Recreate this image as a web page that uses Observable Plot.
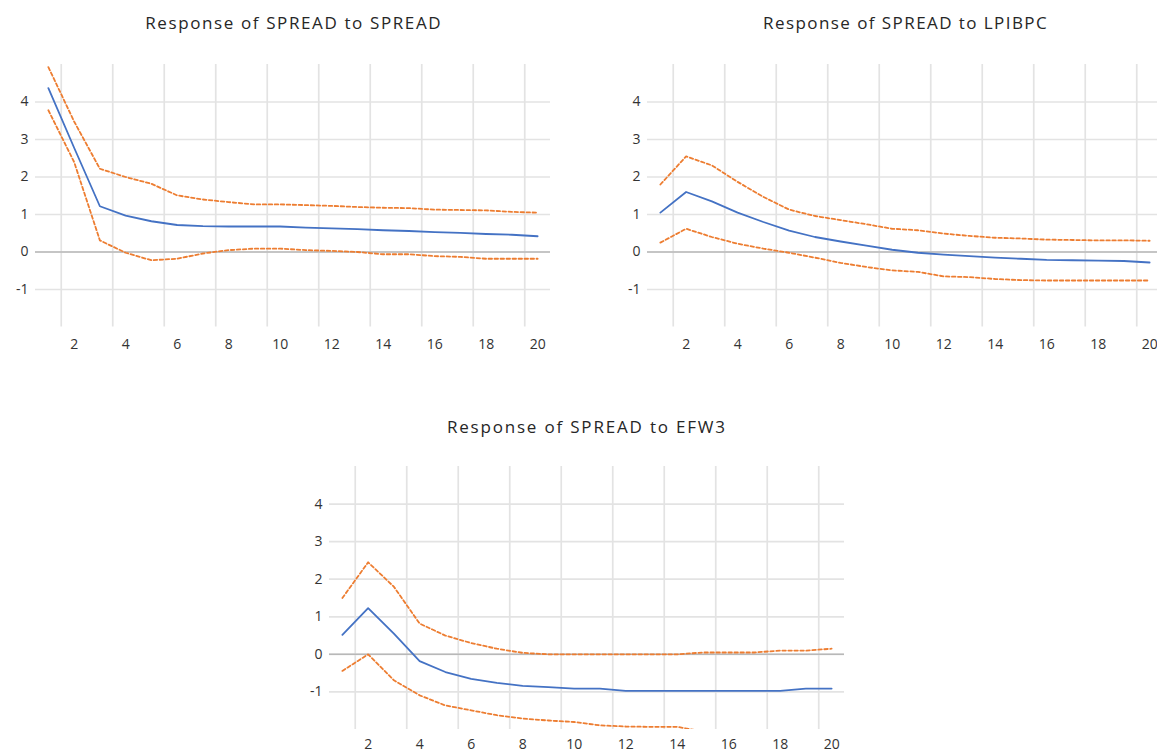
<!DOCTYPE html>
<html>
<head>
<meta charset="utf-8">
<script src="https://cdn.jsdelivr.net/npm/d3@7"></script>
<script src="https://cdn.jsdelivr.net/npm/@observablehq/plot@0.6"></script>
<style>
  html, body { margin: 0; padding: 0; background: #fff; overflow: hidden; }
  #chart { position: relative; width: 1157px; height: 753px; overflow: hidden; background: #fff; }
  .title { position: absolute; text-align: center; font-family: "Open Sans", sans-serif; font-size: 17px; color: #262626; white-space: nowrap; line-height: 20px; }
</style>
</head>
<body>
<div id="chart"></div>
<script>
// ---- data ----
const periods = [1, 2, 3, 4, 5, 6, 7, 8, 9, 10, 11, 12, 13, 14, 15, 16, 17, 18, 19, 20];
const xTickValues = [2, 4, 6, 8, 10, 12, 14, 16, 18, 20];
const xGridValues = [1.5, 3.5, 5.5, 7.5, 9.5, 11.5, 13.5, 15.5, 17.5, 19.5];
const yTickValues = [-1, 0, 1, 2, 3, 4];

const titles = ["Response of SPREAD to SPREAD", "Response of SPREAD to LPIBPC", "Response of SPREAD to EFW3"];

const spreadResponse = [4.37, 2.78, 1.22, 0.97, 0.82, 0.72, 0.69, 0.68, 0.68, 0.68, 0.65, 0.63, 0.61, 0.58, 0.56, 0.53, 0.51, 0.48, 0.46, 0.42];
const spreadUpper    = [4.93, 3.48, 2.22, 2.00, 1.82, 1.51, 1.40, 1.33, 1.27, 1.27, 1.25, 1.23, 1.20, 1.18, 1.17, 1.13, 1.12, 1.11, 1.07, 1.05];
const spreadLower    = [3.78, 2.40, 0.31, -0.02, -0.22, -0.18, -0.04, 0.05, 0.09, 0.09, 0.05, 0.03, 0.00, -0.06, -0.06, -0.11, -0.13, -0.18, -0.18, -0.18];

const lpibpcResponse = [1.05, 1.60, 1.35, 1.05, 0.80, 0.57, 0.40, 0.28, 0.17, 0.06, -0.02, -0.07, -0.11, -0.15, -0.18, -0.21, -0.22, -0.23, -0.24, -0.28];
const lpibpcUpper    = [1.80, 2.55, 2.31, 1.87, 1.47, 1.13, 0.96, 0.85, 0.74, 0.62, 0.58, 0.49, 0.43, 0.38, 0.36, 0.33, 0.32, 0.31, 0.31, 0.30];
const lpibpcLower    = [0.25, 0.62, 0.40, 0.22, 0.09, -0.02, -0.15, -0.29, -0.40, -0.49, -0.53, -0.65, -0.67, -0.72, -0.75, -0.76, -0.76, -0.76, -0.76, -0.76];

const efw3Response = [0.52, 1.23, 0.55, -0.18, -0.47, -0.65, -0.76, -0.84, -0.87, -0.91, -0.91, -0.97, -0.97, -0.97, -0.97, -0.97, -0.97, -0.97, -0.91, -0.91];
const efw3Upper    = [1.50, 2.45, 1.80, 0.82, 0.50, 0.30, 0.15, 0.04, 0.00, 0.00, 0.00, 0.00, 0.00, 0.00, 0.05, 0.05, 0.05, 0.10, 0.10, 0.15];
const efw3Lower    = [-0.44, 0.00, -0.69, -1.09, -1.36, -1.49, -1.62, -1.71, -1.76, -1.80, -1.89, -1.92, -1.93, -1.93, -2.05, -2.10, -2.15, -2.20, -2.25, -2.30];

// ---- layout ----
const ML = 45, MR = 15, MT = 10, MB = 30;
const panels = [
  {title: titles[0], mid: spreadResponse, up: spreadUpper, lo: spreadLower, x0: 35.4, x1: 550.4, yTop: 64.2, yBot: 326.7, titleY: 22.5, titleW: 297, pad: 12},
  {title: titles[1], mid: lpibpcResponse, up: lpibpcUpper, lo: lpibpcLower, x0: 647.4, x1: 1162.4, yTop: 64.2, yBot: 326.7, titleY: 22.5, titleW: 285, pad: 12},
  {title: titles[2], mid: efw3Response, up: efw3Upper, lo: efw3Lower, x0: 328.5, x1: 843.5, yTop: 466, yBot: 729, titleY: 427, titleW: 280, pad: 10}
];

const chart = document.getElementById("chart");
const canvas = document.createElement("canvas");
const ctx = canvas.getContext("2d");
ctx.font = '17px "Open Sans"';

for (const p of panels) {
  const data = periods.map((period, i) => ({period, response: p.mid[i], upper: p.up[i], lower: p.lo[i]}));
  const svg = Plot.plot({
    width: ML + (p.x1 - p.x0) + MR,
    height: MT + (p.yBot - p.yTop) + MB,
    marginLeft: ML, marginRight: MR, marginTop: MT, marginBottom: MB,
    x: {domain: [0.5, 20.5]},
    y: {domain: [-2, 5]},
    style: {fontFamily: '"Open Sans", sans-serif', fontSize: "14px", color: "#333", background: "transparent", overflow: "visible"},
    marks: [
      Plot.ruleX(xGridValues, {stroke: "#e3e3e3", strokeWidth: 1.7}),
      Plot.ruleY(yTickValues, {stroke: "#e3e3e3", strokeWidth: 1.7}),
      Plot.ruleY([0], {stroke: "#b8b8b8", strokeWidth: 1.5}),
      Plot.axisX(xTickValues, {tickSize: 0, tickPadding: p.pad, label: null, tickFormat: d => String(d)}),
      Plot.axisY(yTickValues, {tickSize: 0, tickPadding: 7, label: null, tickFormat: d => String(d)}),
      Plot.line(data, {x: "period", y: "upper", stroke: "#ED7D31", strokeWidth: 1.8, strokeDasharray: "3.5,2.5", clip: true}),
      Plot.line(data, {x: "period", y: "lower", stroke: "#ED7D31", strokeWidth: 1.8, strokeDasharray: "3.5,2.5", clip: true}),
      Plot.line(data, {x: "period", y: "response", stroke: "#4472C4", strokeWidth: 1.8, clip: true})
    ]
  });
  svg.style.position = "absolute";
  svg.style.left = (p.x0 - ML) + "px";
  svg.style.top = (p.yTop - MT) + "px";
  chart.appendChild(svg);

  const t = document.createElement("div");
  t.className = "title";
  t.textContent = p.title;
  const measured = ctx.measureText(p.title).width;
  const ls = (p.titleW - measured) / p.title.length;
  t.style.letterSpacing = ls + "px";
  t.style.left = p.x0 + "px";
  t.style.width = (p.x1 - p.x0) + "px";
  t.style.top = (p.titleY - 10) + "px";
  t.style.textIndent = ls + "px";
  chart.appendChild(t);
}
</script>
</body>
</html>
